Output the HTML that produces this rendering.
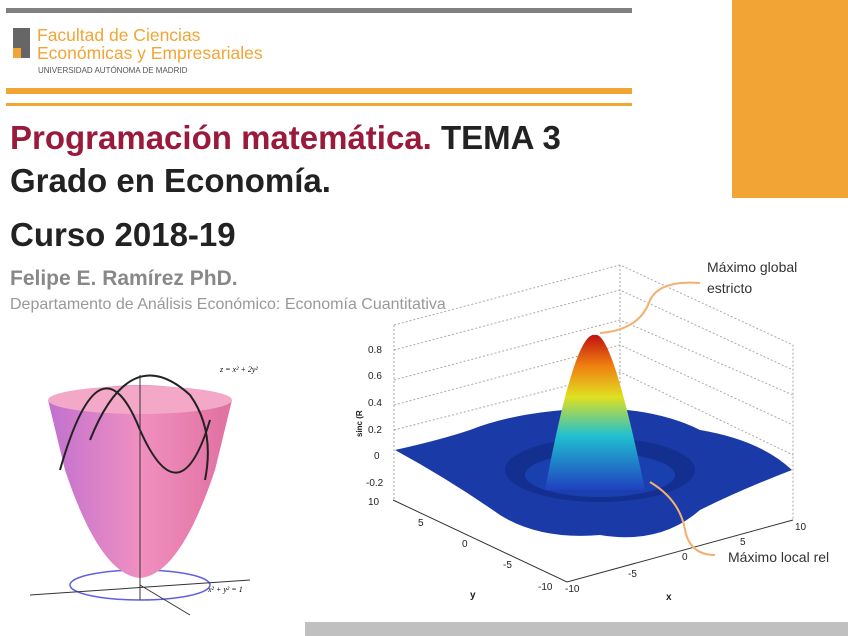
<!DOCTYPE html>
<html><head><meta charset="utf-8"><style>
body{margin:0;width:848px;height:636px;background:#fff;position:relative;overflow:hidden;font-family:"Liberation Sans",sans-serif}
.a{position:absolute;white-space:nowrap}
</style></head><body>
<div class="a" style="left:6px;top:8px;width:626px;height:5px;background:#808080"></div>
<div class="a" style="left:732px;top:0;width:116px;height:198px;background:#f2a535"></div>
<div class="a" style="left:13px;top:28px;width:17px;height:30px;background:#666"></div>
<div class="a" style="left:13px;top:48px;width:8px;height:10px;background:#f2a535"></div>
<div class="a" style="left:37px;top:26px;color:#f2a535;font-size:17.5px;line-height:18px">Facultad de Ciencias<br>Económicas y Empresariales</div>
<div class="a" style="left:38px;top:66px;color:#555;font-size:8px">UNIVERSIDAD AUTÓNOMA DE MADRID</div>
<div class="a" style="left:6px;top:88px;width:626px;height:6px;background:#f2a535"></div>
<div class="a" style="left:6px;top:103px;width:626px;height:3px;background:#f2a535"></div>
<div class="a" style="left:10px;top:116px;font-size:33px;font-weight:bold;color:#222;line-height:43px"><span style="color:#9a1a3c">Programación matemática.</span> TEMA 3<br>Grado en Economía.</div>
<div class="a" style="left:10px;top:216px;font-size:33px;font-weight:bold;color:#222">Curso 2018-19</div>
<div class="a" style="left:10px;top:267px;font-size:21px;font-weight:bold;color:#888">Felipe E. Ramírez PhD.</div>
<div class="a" style="left:10px;top:296px;font-size:16px;color:#999">Departamento de Análisis Económico: Economía Cuantitativa</div>
<div class="a" style="left:305px;top:622px;width:543px;height:14px;background:#c0c0c0"></div>
<svg class="a" style="left:0;top:0" width="848" height="636">
<defs>
<linearGradient id="pk" x1="0" x2="1"><stop offset="0" stop-color="#c070d0"/><stop offset="0.5" stop-color="#f090c0"/><stop offset="1" stop-color="#e070a0"/></linearGradient>
<linearGradient id="rb" x1="0" y1="1" x2="0" y2="0"><stop offset="0" stop-color="#2040c0"/><stop offset="0.35" stop-color="#20c0d0"/><stop offset="0.6" stop-color="#e0e020"/><stop offset="0.8" stop-color="#f08010"/><stop offset="1" stop-color="#c01010"/></linearGradient>
</defs>
<ellipse cx="140" cy="585" rx="70" ry="15" fill="none" stroke="#6060e0" stroke-width="1.5"/>
<path d="M48 400 Q140 370 232 400 L215 470 Q180 575 140 578 Q100 575 65 470 Z" fill="url(#pk)"/>
<ellipse cx="140" cy="400" rx="92" ry="14" fill="#f4a8c8"/>
<path d="M60 470 Q100 330 140 430 Q180 520 210 420" fill="none" stroke="#222" stroke-width="2"/>
<path d="M90 440 Q130 340 190 395 Q215 430 205 480" fill="none" stroke="#222" stroke-width="2"/>
<line x1="30" y1="595" x2="250" y2="580" stroke="#333"/>
<line x1="140" y1="375" x2="140" y2="600" stroke="#333"/>
<line x1="140" y1="585" x2="190" y2="615" stroke="#333"/>
<text x="220" y="372" font-size="8" font-style="italic" font-family="Liberation Serif">z = x² + 2y²</text>
<text x="208" y="592" font-size="8" font-style="italic" font-family="Liberation Serif">x² + y² = 1</text>
<g stroke="#aaa" stroke-dasharray="2,2" fill="none">
<path d="M394 325 L620 265 L793 345 L793 520 M620 265 L620 440 M394 325 L394 500"/>
<path d="M394 350 L620 290 L793 370 M394 380 L620 320 L793 395 M394 405 L620 345 L793 425 M394 430 L620 372 L793 455"/>
</g>
<g stroke="#333" fill="none"><path d="M393 500 L567 582 L793 520"/></g>
<path d="M395 450 Q440 440 470 430 Q520 410 600 408 Q660 410 700 430 Q760 440 792 470 Q740 490 700 510 Q660 545 600 535 Q540 540 500 515 Q450 480 395 450 Z" fill="#1a3aa8"/>
<ellipse cx="600" cy="470" rx="95" ry="32" fill="#132f90"/>
<ellipse cx="600" cy="475" rx="75" ry="22" fill="#1a40b0"/>
<path d="M545 490 Q575 330 595 335 Q612 330 645 490 Z" fill="url(#rb)"/>
<path d="M600 333 Q640 330 650 300 Q660 280 700 283" fill="none" stroke="#f5b070" stroke-width="2"/>
<path d="M650 482 Q680 500 685 530 Q690 555 715 555" fill="none" stroke="#f5b070" stroke-width="2"/>
<g font-size="10" fill="#222">
<text x="368" y="353">0.8</text><text x="368" y="379">0.6</text><text x="368" y="406">0.4</text><text x="368" y="433">0.2</text><text x="374" y="459">0</text><text x="366" y="486">-0.2</text><text x="368" y="505">10</text>
<text x="418" y="526">5</text><text x="462" y="547">0</text><text x="503" y="568">-5</text><text x="538" y="590">-10</text><text x="565" y="592">-10</text>
<text x="628" y="577">-5</text><text x="682" y="560">0</text><text x="740" y="545">5</text><text x="795" y="530">10</text>
<text x="470" y="598" font-weight="bold">y</text><text x="666" y="600" font-weight="bold">x</text>
<text x="362" y="437" font-size="8" font-weight="bold" transform="rotate(-90 362 437)">sinc (R</text>
</g>
<g font-size="14" fill="#333"><text x="707" y="272">Máximo global</text><text x="707" y="293">estricto</text><text x="728" y="562">Máximo local rel</text></g>
</svg>
</body></html>
